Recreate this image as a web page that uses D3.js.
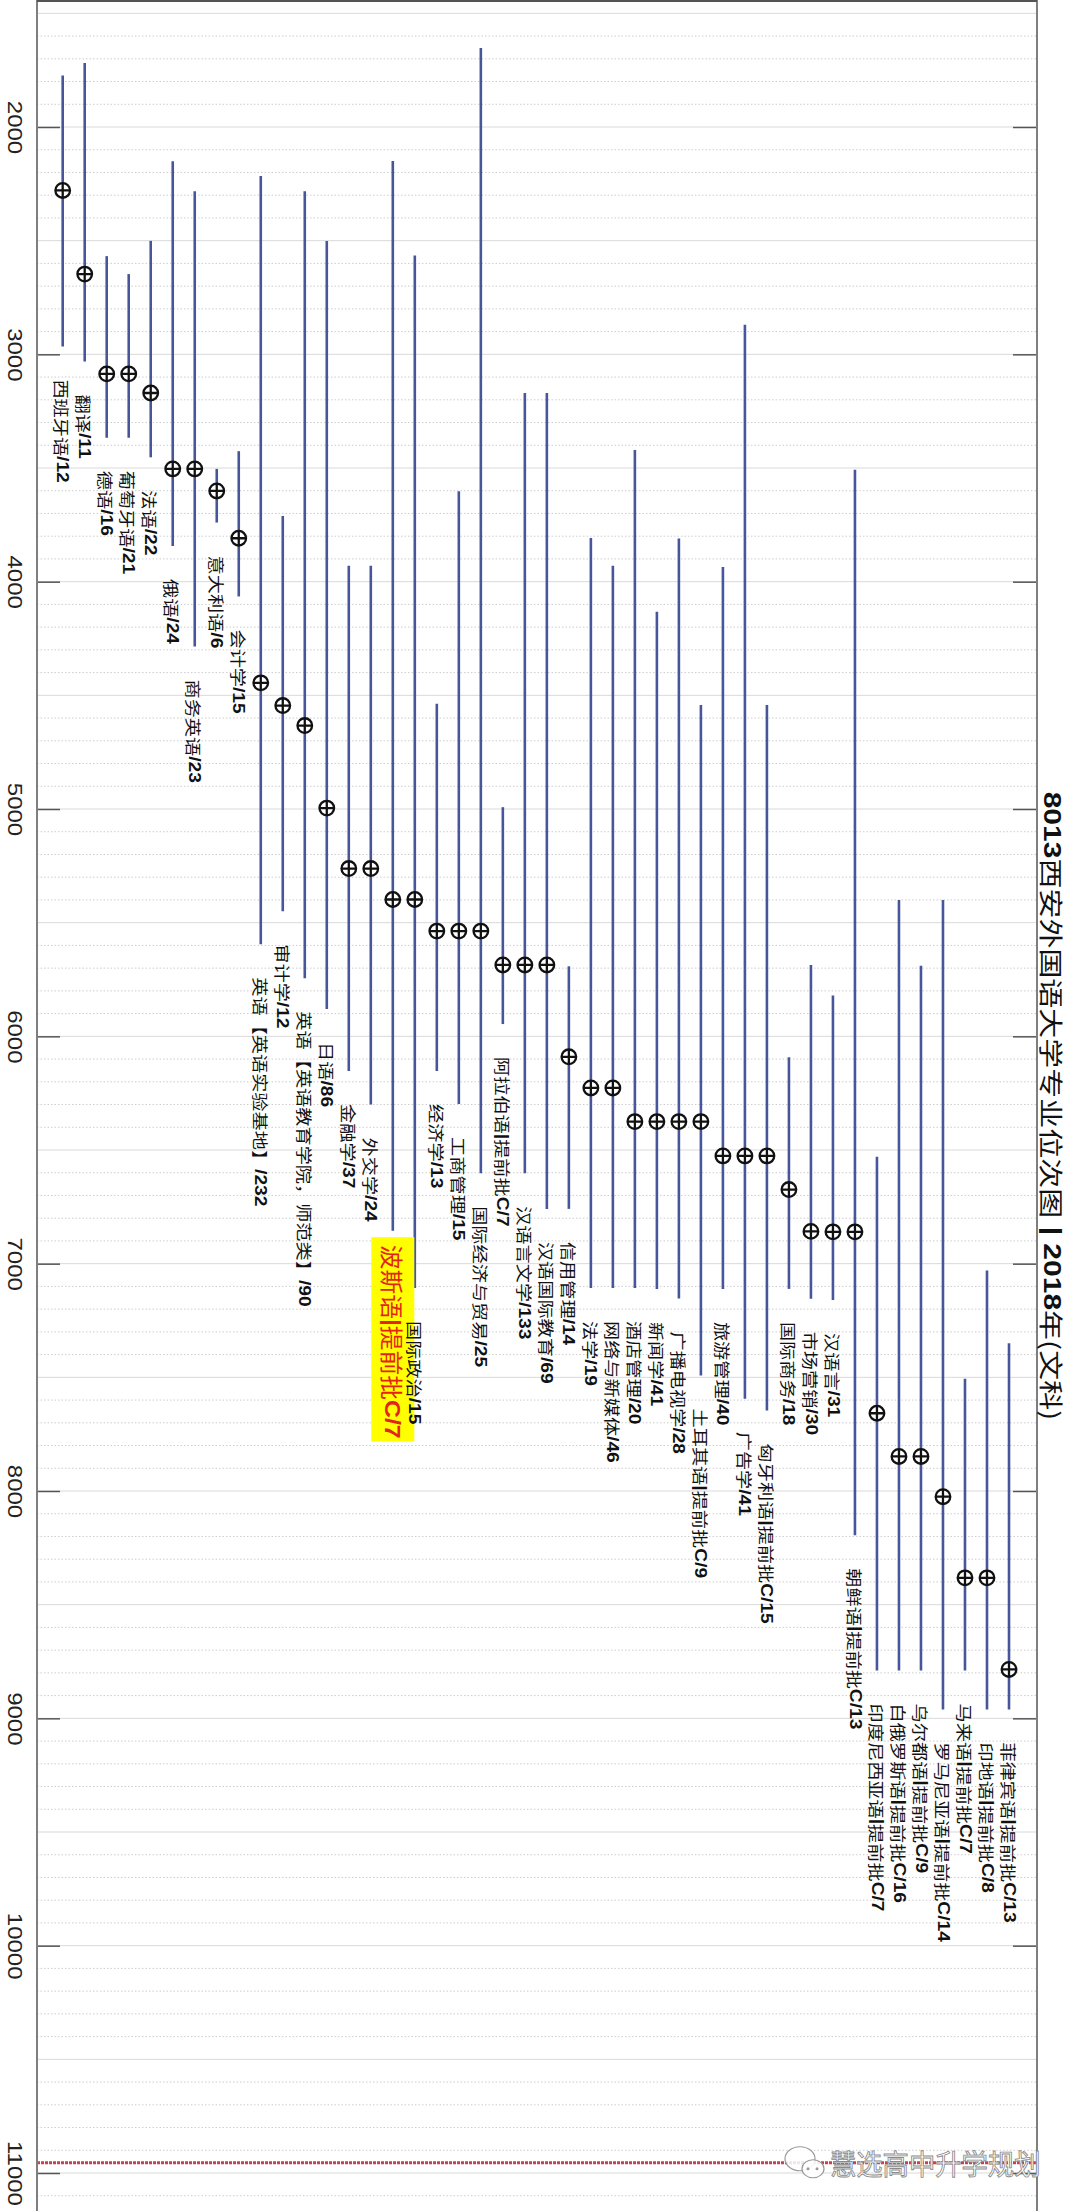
<!DOCTYPE html>
<html>
<head>
<meta charset="utf-8">
<script src="https://cdn.jsdelivr.net/npm/d3@7"></script>
<style>
  body { margin: 0; background: #fff; }
  svg { display: block; }
</style>
</head>
<body>
<div id="chart"></div>
<script>
// majors, from left to right (ordered by average rank)
const majors = ['西班牙语', '翻译', '德语', '葡萄牙语', '法语', '俄语', '商务英语', '意大利语', '会计学',
  '英语【英语实验基地】', '审计学', '英语【英语教育学院，师范类】', '日语', '金融学', '外交学',
  '波斯语|提前批C', '国际政治', '经济学', '工商管理', '国际经济与贸易', '阿拉伯语|提前批C',
  '汉语言文学', '汉语国际教育', '信用管理', '法学', '网络与新媒体', '酒店管理', '新闻学',
  '广播电视学', '土耳其语|提前批C', '旅游管理', '广告学', '匈牙利语|提前批C', '国际商务',
  '市场营销', '汉语言', '朝鲜语|提前批C', '印度尼西亚语|提前批C', '白俄罗斯语|提前批C',
  '乌尔都语|提前批C', '罗马尼亚语|提前批C', '马来语|提前批C', '印地语|提前批C', '菲律宾语|提前批C'];
const counts = [12, 11, 16, 21, 22, 24, 23, 6, 15, 232, 12, 90, 86, 37, 24, 7, 15, 13, 15, 25, 7,
  133, 69, 14, 19, 46, 20, 41, 28, 9, 40, 41, 15, 18, 30, 31, 13, 7, 16, 9, 14, 7, 8, 13];
// best (highest) rank, average rank, lowest rank
const bestRank = [1774, 1719, 2568, 2647, 2501, 2151, 2283, 3504, 3426, 2216, 3711, 2283, 2501, 3930,
  3930, 2150, 2565, 4537, 3602, 1653, 4992, 3170, 3170, 5692, 3808, 3930, 3421, 4132, 3810, 4542,
  3935, 2870, 4542, 6092, 5686, 5820, 3508, 6530, 5400, 5690, 5400, 7506, 7030, 7350];
const avgRank = [2279, 2647, 3086, 3086, 3170, 3504, 3504, 3601, 3809, 4445, 4545, 4633, 4996, 5262,
  5262, 5398, 5398, 5537, 5537, 5537, 5686, 5686, 5686, 6090, 6227, 6227, 6375, 6375, 6375, 6375,
  6526, 6526, 6526, 6674, 6858, 6860, 6860, 7658, 7848, 7848, 8025, 8382, 8382, 8785];
const lastRank = [2965, 3032, 3367, 3367, 3453, 3843, 4285, 3740, 4065, 5595, 5450, 5745, 5880, 6153,
  6300, 6855, 7107, 6153, 6298, 6602, 5946, 6602, 6759, 6759, 7107, 7107, 7107, 7111, 7153, 7492,
  7111, 7594, 7646, 7111, 7154, 7160, 8195, 8790, 8790, 8790, 8961, 8790, 8961, 8961];
const yTicks = [2000, 3000, 4000, 5000, 6000, 7000, 8000, 9000, 10000, 11000];
const highlight = '波斯语|提前批C';
const titleText = '8013西安外国语大学专业位次图 | 2018年(文科)';
const redLineRank = 10955;
const watermark = '慧选高中升学规划';

const w = 1080;
const h = 2211;
const left = 37;
const right = 1037;

const cjk = '"Noto Sans CJK SC", "Noto Sans", sans-serif';
const latin = '"Liberation Sans", Arial, sans-serif';

const svg = d3.select('#chart')
  .append('svg')
  .attr('width', w)
  .attr('height', h);

svg.append('rect').attr('width', w).attr('height', h).attr('fill', '#fff');

const yScale = d3.scaleLinear()
  .domain([2000, 11000])
  .range([127, 2173]);

const xScale = d3.scalePoint()
  .domain(majors)
  .range([62.7, 1009]);

// write text with latin runs in bold
function richText(sel, str) {
  str.split(/([0-9A-Za-z\/| ]+)/).filter(p => p).forEach(p => {
    const t = sel.append('tspan').text(p);
    if (/^[0-9A-Za-z\/| ]+$/.test(p)) {
      t.attr('font-family', latin).attr('font-weight', 'bold');
    }
  });
}

// grid
const gridVals = d3.range(1500, 11201, 100);
svg.append('g')
  .selectAll('line')
  .data(gridVals)
  .enter()
  .append('line')
  .attr('x1', left)
  .attr('x2', right)
  .attr('y1', d => yScale(d))
  .attr('y2', d => yScale(d))
  .attr('stroke', d => d % 500 === 0 ? '#d9d9d9' : '#cdcdcd')
  .attr('stroke-width', 1)
  .attr('stroke-dasharray', d => d % 500 === 0 ? null : '1.5,2');

// red line
svg.append('line')
  .attr('x1', left)
  .attr('x2', right)
  .attr('y1', yScale(redLineRank))
  .attr('y2', yScale(redLineRank))
  .attr('stroke', '#c8414c')
  .attr('stroke-width', 3)
  .attr('stroke-dasharray', '3,1');

// axes
const yAxis = d3.axisLeft(yScale)
  .tickValues(yTicks)
  .tickSize(-23)
  .tickSizeOuter(0)
  .tickFormat(d3.format('d'));

const gy = svg.append('g')
  .attr('id', 'y-axis')
  .attr('transform', 'translate(' + left + ', 0)')
  .call(yAxis);
gy.select('.domain').remove();
gy.selectAll('.tick line').attr('stroke', '#555').attr('stroke-width', 1.5);
gy.selectAll('.tick text')
  .attr('x', null)
  .attr('dy', null)
  .attr('transform', 'translate(' + (15 - left) + ',0) rotate(90) scale(1.2,1)')
  .attr('text-anchor', 'middle')
  .attr('dominant-baseline', 'central')
  .attr('font-family', latin)
  .attr('font-size', 20)
  .attr('fill', '#222');

const yAxisR = d3.axisRight(yScale)
  .tickValues(yTicks)
  .tickSize(-24)
  .tickSizeOuter(0)
  .tickFormat('');
const gyr = svg.append('g')
  .attr('transform', 'translate(' + right + ', 0)')
  .call(yAxisR);
gyr.select('.domain').remove();
gyr.selectAll('.tick line').attr('stroke', '#555').attr('stroke-width', 1.5);

svg.append('line').attr('x1', left).attr('x2', left).attr('y1', 0).attr('y2', h)
  .attr('stroke', '#7f7f7f').attr('stroke-width', 2);
svg.append('line').attr('x1', right).attr('x2', right).attr('y1', 0).attr('y2', h)
  .attr('stroke', '#7f7f7f').attr('stroke-width', 2);
svg.append('line').attr('x1', left).attr('x2', right).attr('y1', 1).attr('y2', 1)
  .attr('stroke', '#555').attr('stroke-width', 2);

// range lines
svg.append('g')
  .selectAll('line')
  .data(majors)
  .enter()
  .append('line')
  .attr('x1', d => xScale(d))
  .attr('x2', d => xScale(d))
  .attr('y1', (d, i) => yScale(bestRank[i]))
  .attr('y2', (d, i) => yScale(lastRank[i]))
  .attr('stroke', '#47569a')
  .attr('stroke-width', 2.6);

// markers
const r = 7.3;
const marks = svg.append('g')
  .selectAll('g')
  .data(majors)
  .enter()
  .append('g')
  .attr('transform', (d, i) => 'translate(' + xScale(d) + ',' + yScale(avgRank[i]) + ')');
marks.append('circle')
  .attr('r', r)
  .attr('fill', '#fff')
  .attr('stroke', '#111')
  .attr('stroke-width', 2.3);
marks.append('path')
  .attr('d', 'M' + (-r) + ',0H' + r + 'M0,' + (-r) + 'V' + r)
  .attr('stroke', '#111')
  .attr('stroke-width', 2.3);

// labels
const labels = svg.append('g');
majors.forEach((m, i) => {
  const isHi = m === highlight;
  const x = xScale(m);
  const y0 = yScale(lastRank[i]) + (isHi ? 14 : 33);
  const t = labels.append('text')
    .attr('transform', 'translate(' + x + ',' + y0 + ') rotate(90) scale(' + (isHi ? 1.1 : 1.2) + ',1)')
    .attr('dominant-baseline', 'central')
    .attr('font-family', cjk)
    .attr('font-size', isHi ? 22.5 : 16)
    .attr('fill', isHi ? '#e3241b' : '#111');
  richText(t, m + '/' + counts[i]);
  if (isHi) {
    const b = t.node().getBoundingClientRect();
    labels.insert('rect', 'text')
      .attr('x', x - 21.5)
      .attr('y', yScale(lastRank[i]) + 6.5)
      .attr('width', 43)
      .attr('height', b.bottom + 3 - (yScale(lastRank[i]) + 6.5))
      .attr('fill', '#ffff00');
  }
});

// title
const title = svg.append('text')
  .attr('transform', 'translate(1053,1106) rotate(90) scale(1.25,1)')
  .attr('text-anchor', 'middle')
  .attr('dominant-baseline', 'central')
  .attr('font-family', cjk)
  .attr('font-size', 24)
  .attr('fill', '#111');
richText(title, titleText);

// watermark
const wm = svg.append('g').attr('transform', 'translate(0,' + yScale(redLineRank) + ')');
wm.append('ellipse').attr('cx', 800).attr('cy', -4).attr('rx', 15).attr('ry', 12)
  .attr('fill', 'rgba(255,255,255,0.85)').attr('stroke', '#9a9a9a').attr('stroke-width', 1.2);
wm.append('ellipse').attr('cx', 813).attr('cy', 6).attr('rx', 11).attr('ry', 9)
  .attr('fill', 'rgba(255,255,255,0.9)').attr('stroke', '#9a9a9a').attr('stroke-width', 1.2);
[[808, 6], [817, 6]].forEach(p => {
  wm.append('circle').attr('cx', p[0]).attr('cy', p[1]).attr('r', 1.5).attr('fill', '#9a9a9a');
});
wm.append('text')
  .attr('transform', 'translate(830,0) scale(0.94,1)')
  .attr('dominant-baseline', 'central')
  .attr('font-family', cjk)
  .attr('font-size', 28)
  .attr('fill', '#fff')
  .attr('stroke', '#8a8a8a')
  .attr('stroke-width', 0.9)
  .text(watermark);
</script>
</body>
</html>
